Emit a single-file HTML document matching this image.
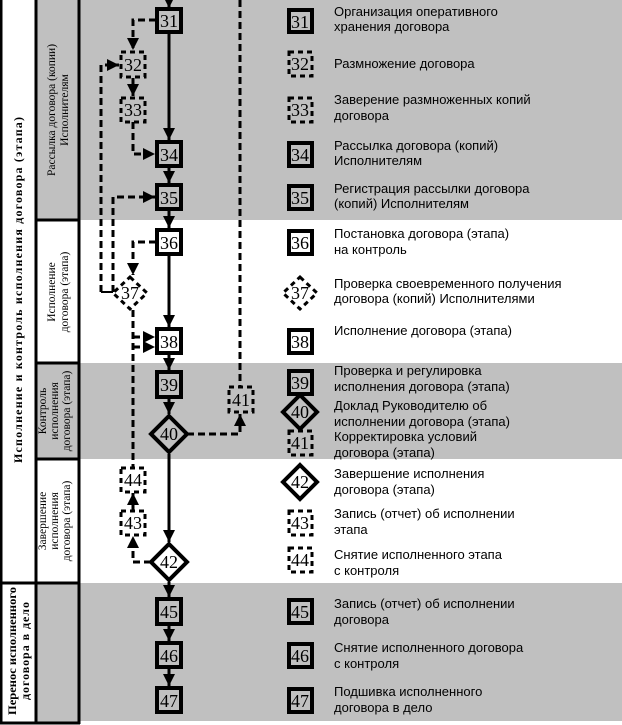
<!DOCTYPE html>
<html><head><meta charset="utf-8"><style>
html,body{margin:0;padding:0;background:#fff}
svg{display:block}
.n{font-family:"Liberation Serif","DejaVu Serif",serif;font-size:18px;text-anchor:middle}
.t{font-family:"Liberation Sans","DejaVu Sans",sans-serif;font-size:13px}
.c{font-family:"Liberation Serif",serif;font-size:11.5px;text-anchor:middle}
.b{font-family:"Liberation Serif","DejaVu Serif",serif;font-size:12px;font-weight:bold;text-anchor:middle}
</style></head><body>
<svg width="622" height="725" viewBox="0 0 622 725" xmlns="http://www.w3.org/2000/svg">
<defs>
<marker id="a" viewBox="0 0 10 10" refX="10" refY="5" markerWidth="4" markerHeight="4" orient="auto"><path d="M0,0L10,5L0,10z" fill="#000"/></marker>
</defs>
<rect x="80" y="0" width="542" height="220" fill="#c0c0c0"/>
<rect x="80" y="363" width="542" height="96" fill="#c0c0c0"/>
<rect x="80" y="583" width="542" height="138" fill="#c0c0c0"/>
<rect x="37" y="0" width="42" height="220" fill="#c0c0c0"/>
<rect x="37" y="363" width="42" height="96" fill="#c0c0c0"/>
<rect x="37" y="583" width="42" height="140" fill="#c0c0c0"/>
<g stroke="#000" stroke-width="3" fill="none">
<line x1="1" y1="0" x2="1" y2="724"/>
<line x1="36" y1="0" x2="36" y2="724"/>
<line x1="79" y1="0" x2="79" y2="724"/>
<line x1="0" y1="723" x2="80" y2="723"/>
<line x1="0" y1="583" x2="80" y2="583"/>
<line x1="36" y1="220" x2="80" y2="220"/>
<line x1="36" y1="363" x2="80" y2="363"/>
<line x1="36" y1="459" x2="80" y2="459"/>
</g>
<text class="b" transform="translate(22,290) rotate(-90)" textLength="346" lengthAdjust="spacing">Исполнение и контроль исполнения договора (этапа)</text>
<text class="b" transform="translate(16,651) rotate(-90)" textLength="128" lengthAdjust="spacingAndGlyphs">Перенос исполненного</text>
<text class="b" transform="translate(29,651) rotate(-90)" textLength="98" lengthAdjust="spacing">договора в дело</text>
<text class="c" transform="translate(55,110) rotate(-90)">Рассылка договора (копии)</text>
<text class="c" transform="translate(68,110) rotate(-90)">Исполнителям</text>
<text class="c" transform="translate(55,292) rotate(-90)">Исполнение</text>
<text class="c" transform="translate(68,292) rotate(-90)">договора (этапа)</text>
<text class="c" transform="translate(46,411) rotate(-90)">Контроль</text>
<text class="c" transform="translate(58,411) rotate(-90)">исполнения</text>
<text class="c" transform="translate(70,411) rotate(-90)">договора (этапа)</text>
<text class="c" transform="translate(46,521) rotate(-90)">Завершение</text>
<text class="c" transform="translate(58,521) rotate(-90)">исполнения</text>
<text class="c" transform="translate(70,521) rotate(-90)">договора (этапа)</text>
<g stroke="#000" stroke-width="3" fill="none" marker-end="url(#a)">
<line x1="169" y1="0" x2="169" y2="8"/>
<line x1="169" y1="33" x2="169" y2="140"/>
<line x1="169" y1="167" x2="169" y2="183"/>
<line x1="169" y1="210" x2="169" y2="228"/>
<line x1="169" y1="255" x2="169" y2="327"/>
<line x1="169" y1="354" x2="169" y2="370"/>
<line x1="169" y1="398" x2="169" y2="414"/>
<line x1="169" y1="454" x2="169" y2="542"/>
<line x1="169" y1="582" x2="169" y2="597"/>
<line x1="169" y1="625" x2="169" y2="641"/>
<line x1="169" y1="668" x2="169" y2="686"/>
</g>
<line x1="101" y1="292" x2="113" y2="292" stroke="#000" stroke-width="2"/>
<g stroke="#000" stroke-width="3" fill="none" stroke-dasharray="7,4">
<line x1="240" y1="0" x2="240" y2="386"/>
<polyline points="156,20 133,20 133,50" marker-end="url(#a)"/>
<line x1="133" y1="78" x2="133" y2="96" marker-end="url(#a)"/>
<polyline points="133,122 133,154 155,154" marker-end="url(#a)"/>
<polyline points="113,292 113,197 155,197" marker-end="url(#a)"/>
<polyline points="101,292 101,65 119,65" marker-end="url(#a)"/>
<polyline points="156,242 133,242 133,275" marker-end="url(#a)"/>
<line x1="133" y1="310" x2="133" y2="467"/>
<line x1="133" y1="337" x2="155" y2="337" marker-end="url(#a)"/>
<line x1="133" y1="347" x2="155" y2="347" marker-end="url(#a)"/>
<polyline points="187,434 240,434 240,414" marker-end="url(#a)"/>
<polyline points="151,562 133,562 133,536" marker-end="url(#a)"/>
<line x1="133" y1="510" x2="133" y2="493" marker-end="url(#a)"/>
</g>
<g stroke="#000" stroke-width="4">
<rect x="157" y="9" width="24" height="23" fill="#c0c0c0"/>
<rect x="157" y="142" width="24" height="24" fill="#c0c0c0"/>
<rect x="157" y="185" width="24" height="24" fill="#c0c0c0"/>
<rect x="157" y="230" width="24" height="24" fill="#fff"/>
<rect x="157" y="329" width="24" height="24" fill="#fff"/>
<rect x="157" y="372" width="24" height="25" fill="#c0c0c0"/>
<rect x="157" y="599" width="24" height="25" fill="#c0c0c0"/>
<rect x="157" y="643" width="24" height="24" fill="#c0c0c0"/>
<rect x="157" y="688" width="24" height="24" fill="#c0c0c0"/>
<polygon points="169,416 187,434 169,452 151,434" fill="#c0c0c0"/>
<polygon points="169,544 187,562 169,580 151,562" fill="#fff"/>
</g>
<g stroke="#000" stroke-width="3" stroke-dasharray="5,4">
<rect x="121" y="52" width="24" height="25" fill="#c0c0c0"/>
<rect x="121" y="98" width="24" height="24" fill="#c0c0c0"/>
<rect x="229" y="387" width="24" height="25" fill="#c0c0c0"/>
<rect x="121" y="468" width="24" height="24" fill="#fff"/>
<rect x="121" y="511" width="24" height="24" fill="#fff"/>
<polygon points="130,277 147,293 130,309 113,293" fill="#fff"/>
</g>
<g class="n">
<text x="169" y="27">31</text><text x="133" y="71">32</text><text x="133" y="116">33</text>
<text x="169" y="161">34</text><text x="169" y="204">35</text><text x="169" y="249">36</text>
<text x="130" y="299">37</text><text x="169" y="348">38</text><text x="169" y="391">39</text>
<text x="169" y="440">40</text><text x="241" y="406">41</text><text x="169" y="568">42</text>
<text x="133" y="529">43</text><text x="133" y="486">44</text><text x="169" y="618">45</text>
<text x="169" y="662">46</text><text x="169" y="707">47</text>
</g>
<g stroke="#000" stroke-width="4">
<rect x="289" y="10" width="23" height="22" fill="#c0c0c0"/>
<rect x="289" y="143" width="23" height="23" fill="#c0c0c0"/>
<rect x="289" y="186" width="23" height="23" fill="#c0c0c0"/>
<rect x="289" y="231" width="23" height="23" fill="#fff"/>
<rect x="289" y="330" width="23" height="23" fill="#fff"/>
<rect x="289" y="371" width="23" height="23" fill="#c0c0c0"/>
<rect x="289" y="600" width="23" height="23" fill="#c0c0c0"/>
<rect x="289" y="644" width="23" height="23" fill="#c0c0c0"/>
<rect x="289" y="689" width="23" height="23" fill="#c0c0c0"/>
<polygon points="300,395 317,412 300,429 283,412" fill="#c0c0c0"/>
<polygon points="300,465 317,482 300,499 283,482" fill="#fff"/>
</g>
<g stroke="#000" stroke-width="3" stroke-dasharray="5,4">
<rect x="289" y="52" width="23" height="24" fill="#c0c0c0"/>
<rect x="289" y="98" width="23" height="24" fill="#c0c0c0"/>
<rect x="289" y="431" width="23" height="24" fill="#c0c0c0"/>
<rect x="289" y="511" width="23" height="24" fill="#fff"/>
<rect x="289" y="548" width="23" height="24" fill="#fff"/>
<polygon points="300,277 317,293 300,309 283,293" fill="#fff"/>
</g>
<g class="n">
<text x="300" y="28">31</text><text x="300" y="70">32</text><text x="300" y="116">33</text>
<text x="300" y="161">34</text><text x="300" y="204">35</text><text x="300" y="249">36</text>
<text x="300" y="299">37</text><text x="300" y="348">38</text><text x="300" y="389">39</text>
<text x="300" y="418">40</text><text x="300" y="449">41</text><text x="300" y="488">42</text>
<text x="300" y="529">43</text><text x="300" y="566">44</text><text x="300" y="618">45</text>
<text x="300" y="662">46</text><text x="300" y="707">47</text>
</g>
<g class="t">
<text x="334" y="16">Организация оперативного</text><text x="334" y="31">хранения договора</text>
<text x="334" y="68">Размножение договора</text>
<text x="334" y="104">Заверение размноженных копий</text><text x="334" y="120">договора</text>
<text x="334" y="150">Рассылка договора (копий)</text><text x="334" y="165">Исполнителям</text>
<text x="334" y="193">Регистрация рассылки договора</text><text x="334" y="208">(копий) Исполнителям</text>
<text x="334" y="238">Постановка договора (этапа)</text><text x="334" y="254">на контроль</text>
<text x="334" y="288">Проверка своевременного получения</text><text x="334" y="303">договора (копий) Исполнителями</text>
<text x="334" y="335">Исполнение договора (этапа)</text>
<text x="334" y="375">Проверка и регулировка</text><text x="334" y="391">исполнения договора (этапа)</text>
<text x="334" y="410">Доклад Руководителю об</text><text x="334" y="426">исполнении договора (этапа)</text>
<text x="334" y="441">Корректировка условий</text><text x="334" y="457">договора (этапа)</text>
<text x="334" y="478">Завершение исполнения</text><text x="334" y="494">договора (этапа)</text>
<text x="334" y="518">Запись (отчет) об исполнении</text><text x="334" y="534">этапа</text>
<text x="334" y="559">Снятие исполненного этапа</text><text x="334" y="575">с контроля</text>
<text x="334" y="608">Запись (отчет) об исполнении</text><text x="334" y="624">договора</text>
<text x="334" y="652">Снятие исполненного договора</text><text x="334" y="668">с контроля</text>
<text x="334" y="696">Подшивка исполненного</text><text x="334" y="712">договора в дело</text>
</g>
</svg>
</body></html>
